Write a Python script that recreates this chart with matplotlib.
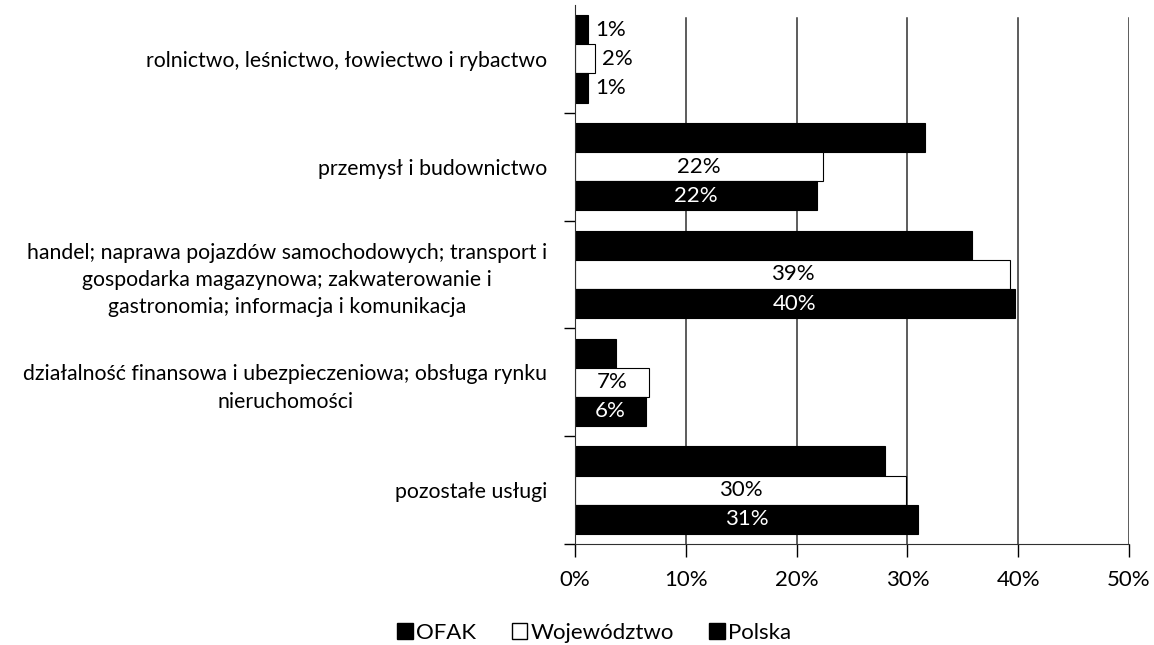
import numpy as np
import matplotlib.pyplot as plt
from matplotlib.patches import Patch

plt.rcParams['font.family'] = ['Lato', 'DejaVu Sans']

categories = [
    "rolnictwo, leśnictwo, łowiectwo i rybactwo",
    "przemysł i budownictwo",
    "handel; naprawa pojazdów samochodowych; transport i\ngospodarka magazynowa; zakwaterowanie i\ngastronomia; informacja i komunikacja",
    "działalność finansowa i ubezpieczeniowa; obsługa rynku\nnieruchomości",
    "pozostałe usługi",
]
series_names = ["OFAK", "Województwo", "Polska"]
ofak = [1.2, 31.6, 35.8, 3.7, 28.0]
wojewodztwo = [1.8, 22.4, 39.3, 6.7, 29.9]
polska = [1.2, 21.8, 39.7, 6.4, 31.0]

fig = plt.figure(figsize=(11.54, 6.45), dpi=100)
ax = fig.add_axes([575/1154, 1 - 544/645, 554/1154, 539/645])

y = np.arange(len(categories))
h = 0.27
fs = 16

# vertical grid, starts a bit below the top of the plot area
for gx in [10, 20, 30, 40, 50]:
    ax.axvline(gx, ymin=0, ymax=0.976, color='#303030', lw=1.1, zorder=0)

ax.barh(y - h, ofak, height=h, color='black', edgecolor='black', lw=0.8, zorder=2)
ax.barh(y, wojewodztwo, height=h, color='white', edgecolor='black', lw=0.8, zorder=2)
ax.barh(y + h, polska, height=h, color='black', edgecolor='black', lw=0.8, zorder=2)

# value labels: small bars get theirs outside, the rest centred inside
for i in range(len(categories)):
    if i == 0:
        for off, v in zip([-h, 0, h], [ofak[i], wojewodztwo[i], polska[i]]):
            ax.text(v + 0.6, y[i] + off, "%d%%" % round(v), va='center', ha='left',
                    fontsize=fs, color='black')
    else:
        ax.text(wojewodztwo[i] / 2, y[i], "%d%%" % round(wojewodztwo[i]), va='center',
                ha='center', fontsize=fs, color='black')
        ax.text(polska[i] / 2, y[i] + h, "%d%%" % round(polska[i]), va='center',
                ha='center', fontsize=fs, color='white')

ax.set_xlim(0, 50)
ax.set_ylim(len(categories) - 0.5, -0.5)
ax.set_xticks([0, 10, 20, 30, 40, 50])
ax.set_xticklabels(["%d%%" % t for t in [0, 10, 20, 30, 40, 50]], fontsize=fs)
ax.set_yticks(y)
ax.set_yticklabels(categories, fontsize=15.3, ha='right', multialignment='center',
                   linespacing=1.45)
ax.set_yticks(np.arange(len(categories)) + 0.5, minor=True)
ax.tick_params(axis='y', which='major', length=0, pad=20)
ax.tick_params(axis='y', which='minor', length=8, width=1)
ax.tick_params(axis='x', length=9, width=1, pad=10)
for s in ['top', 'right']:
    ax.spines[s].set_visible(False)
ax.spines['left'].set_color('#303030')
ax.spines['bottom'].set_color('#303030')

handles = [Patch(facecolor='black', edgecolor='black'),
           Patch(facecolor='white', edgecolor='black'),
           Patch(facecolor='black', edgecolor='black')]
fig.legend(handles, series_names, loc='center', bbox_to_anchor=(0.515, 1 - 633/645),
           ncol=3, frameon=False, fontsize=fs, handlelength=0.7, handleheight=0.7,
           handletextpad=0.15, columnspacing=1.6)

fig.savefig("out.png", dpi=100)
